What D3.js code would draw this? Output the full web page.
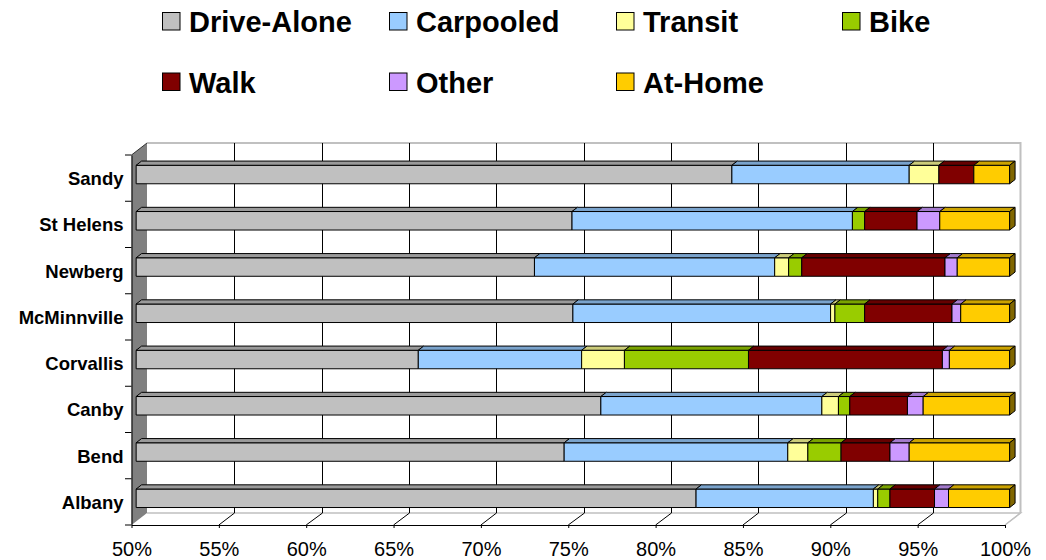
<!DOCTYPE html>
<html>
<head>
<meta charset="utf-8">
<script src="https://cdn.jsdelivr.net/npm/d3@7"></script>
<style>
  html, body { margin: 0; padding: 0; background: #fff; }
  svg { display: block; }
</style>
</head>
<body>
<svg id="chart" width="1046" height="560"></svg>
<script>
// Commute mode share by city (percent of workers)
const cities = ["Sandy", "St Helens", "Newberg", "McMinnville", "Corvallis", "Canby", "Bend", "Albany"];
const seriesNames = ["Drive-Alone", "Carpooled", "Transit", "Bike", "Walk", "Other", "At-Home"];
const driveAlone = [84.1, 74.95, 72.8, 75.0, 66.15, 76.6, 74.5, 82.05];
const carpooled  = [10.15, 16.05, 13.75, 14.75, 9.35, 12.65, 12.8, 10.15];
const transit    = [1.7, 0, 0.8, 0.25, 2.45, 0.95, 1.15, 0.25];
const bike       = [0, 0.7, 0.75, 1.7, 7.1, 0.65, 1.9, 0.7];
const walk       = [2.0, 3.0, 8.2, 5.0, 11.1, 3.3, 2.8, 2.55];
const other      = [0, 1.3, 0.7, 0.5, 0.4, 0.9, 1.1, 0.8];
const atHome     = [2.05, 4.0, 3.0, 2.8, 3.45, 4.95, 5.75, 3.5];
const xTicks = [50, 55, 60, 65, 70, 75, 80, 85, 90, 95, 100];

const seriesValues = [driveAlone, carpooled, transit, bike, walk, other, atHome];
const colors = ["#C0C0C0", "#99CCFF", "#FFFF99", "#99CC00", "#800000", "#CC99FF", "#FFCC00"];

const svg = d3.select("#chart");
const font = "'Liberation Sans', Arial, Helvetica, sans-serif";

// Front plane scales; the depth vector shifts points toward the back wall
const x = d3.scaleLinear().domain([50, 100]).range([131.5, 1005]);
const y = d3.scaleBand().domain(cities).range([155, 525]).paddingInner(0.6).paddingOuter(0.3);
const DX = 15.5, DY = -12;
const [x0, x1] = x.range();
const [yTop, yBot] = y.range();

const shade = (c, k) => {
  const r = d3.rgb(c);
  return d3.rgb(r.r * k, r.g * k, r.b * k).formatHex();
};
const poly = pts => "M" + pts.map(p => p.join(",")).join("L") + "Z";

// Walls and floor
const walls = svg.append("g");
walls.append("path") // back wall
  .attr("d", poly([[x0 + DX, yTop + DY], [x1 + DX, yTop + DY], [x1 + DX, yBot + DY], [x0 + DX, yBot + DY]]))
  .attr("fill", "#fff").attr("stroke", "none");
walls.append("path") // top and right border of back wall
  .attr("d", `M${x0 + DX},${yTop + DY}L${x1 + DX},${yTop + DY}L${x1 + DX},${yBot + DY}`)
  .attr("fill", "none").attr("stroke", "#c0c0c0").attr("stroke-width", 2);
walls.append("path") // floor edges
  .attr("d", `M${x0 + DX},${yBot + DY}L${x1 + DX},${yBot + DY}L${x1},${yBot}`)
  .attr("fill", "none").attr("stroke", "#c0c0c0").attr("stroke-width", 1.5);

// Gridlines on back wall and their floor diagonals
const grid = svg.append("g").attr("stroke", "#000").attr("stroke-width", 1).attr("fill", "none");
xTicks.filter(t => t > 50 && t < 100).forEach(t => {
  const xb = Math.round(x(t) + DX) + 0.5;
  grid.append("path").attr("d", `M${xb},${yTop + DY}L${xb},${yBot + DY}L${x(t)},${yBot}`);
});
grid.append("path").attr("d", `M${x1},${yBot}L${x1 + DX},${yBot + DY}`).attr("stroke", "#c0c0c0");

// Left side wall
svg.append("path")
  .attr("d", poly([[x0, yTop], [x0 + DX, yTop + DY], [x0 + DX, yBot + DY], [x0, yBot]]))
  .attr("fill", "#808080").attr("stroke", "none");
svg.append("path")
  .attr("d", `M${x0},${yTop}L${x0 + DX},${yTop + DY}`)
  .attr("stroke", "#333").attr("fill", "none");

// Bars
const f0 = 0.3, f1 = 0.65;
const bars = svg.append("g").attr("stroke", "#000").attr("stroke-width", 1).attr("stroke-linejoin", "round");
cities.forEach((city, ci) => {
  let cum = 0;
  const segs = [];
  seriesValues.forEach((vals, si) => {
    const v = vals[ci];
    const s = cum, e = cum + v;
    cum = e;
    if (v <= 0 || e <= 50) return;
    segs.push({ s: Math.max(50, s), e: Math.min(100, e), color: colors[si] });
  });
  const yt = y(city) + DY * f0;
  const yb = yt + y.bandwidth();
  const ddx = DX * (f1 - f0), ddy = DY * (f1 - f0);
  segs.forEach((g, k) => {
    const xs = x(g.s) + DX * f0, xe = x(g.e) + DX * f0;
    bars.append("path").attr("d", poly([[xs, yt], [xe, yt], [xe, yb], [xs, yb]])).attr("fill", g.color);
    bars.append("path").attr("d", poly([[xs, yt], [xe, yt], [xe + ddx, yt + ddy], [xs + ddx, yt + ddy]]))
      .attr("fill", shade(g.color, 0.8));
    if (k === segs.length - 1) {
      bars.append("path").attr("d", poly([[xe, yt], [xe + ddx, yt + ddy], [xe + ddx, yb + ddy], [xe, yb]]))
        .attr("fill", shade(g.color, 0.5));
    }
  });
});

// X axis on the front edge of the floor
const xAxis = svg.append("g")
  .attr("transform", `translate(0,${yBot})`)
  .call(d3.axisBottom(x).tickValues(xTicks).tickFormat(d => d + "%").tickSize(3).tickSizeOuter(0).tickPadding(14));
xAxis.selectAll("text").attr("font-family", font).attr("font-size", 20).attr("fill", "#000");
xAxis.selectAll("line, path").attr("stroke", "#000");

// Y axis with category labels
const yAxis = svg.append("g")
  .attr("transform", `translate(${x0},0)`)
  .call(d3.axisLeft(y).tickSize(0).tickPadding(8));
yAxis.selectAll("text").attr("font-family", font).attr("font-size", 18.5).attr("font-weight", "bold")
  .attr("fill", "#000").attr("dy", "0.38em");
yAxis.select(".domain").attr("stroke", "#000");
d3.range(cities.length + 1).forEach(i => {
  const yy = yTop + i * y.step();
  yAxis.append("line").attr("x1", -6.5).attr("x2", 0).attr("y1", yy).attr("y2", yy).attr("stroke", "#000");
});

// Legend
const legendCols = [162, 389, 616, 842];
const legend = svg.append("g");
seriesNames.forEach((name, i) => {
  const row = i < 4 ? 0 : 1;
  const col = i < 4 ? i : i - 4;
  const lx = legendCols[col], ly = 12.5 + row * 60.5;
  legend.append("rect").attr("x", lx + 0.5).attr("y", ly).attr("width", 17.5).attr("height", 17.5)
    .attr("fill", colors[i]).attr("stroke", "#000").attr("stroke-width", 1);
  legend.append("text").attr("x", lx + 27).attr("y", ly + 19.5)
    .attr("font-family", font).attr("font-size", 29).attr("font-weight", "bold").attr("fill", "#000")
    .text(name);
});
</script>
</body>
</html>
